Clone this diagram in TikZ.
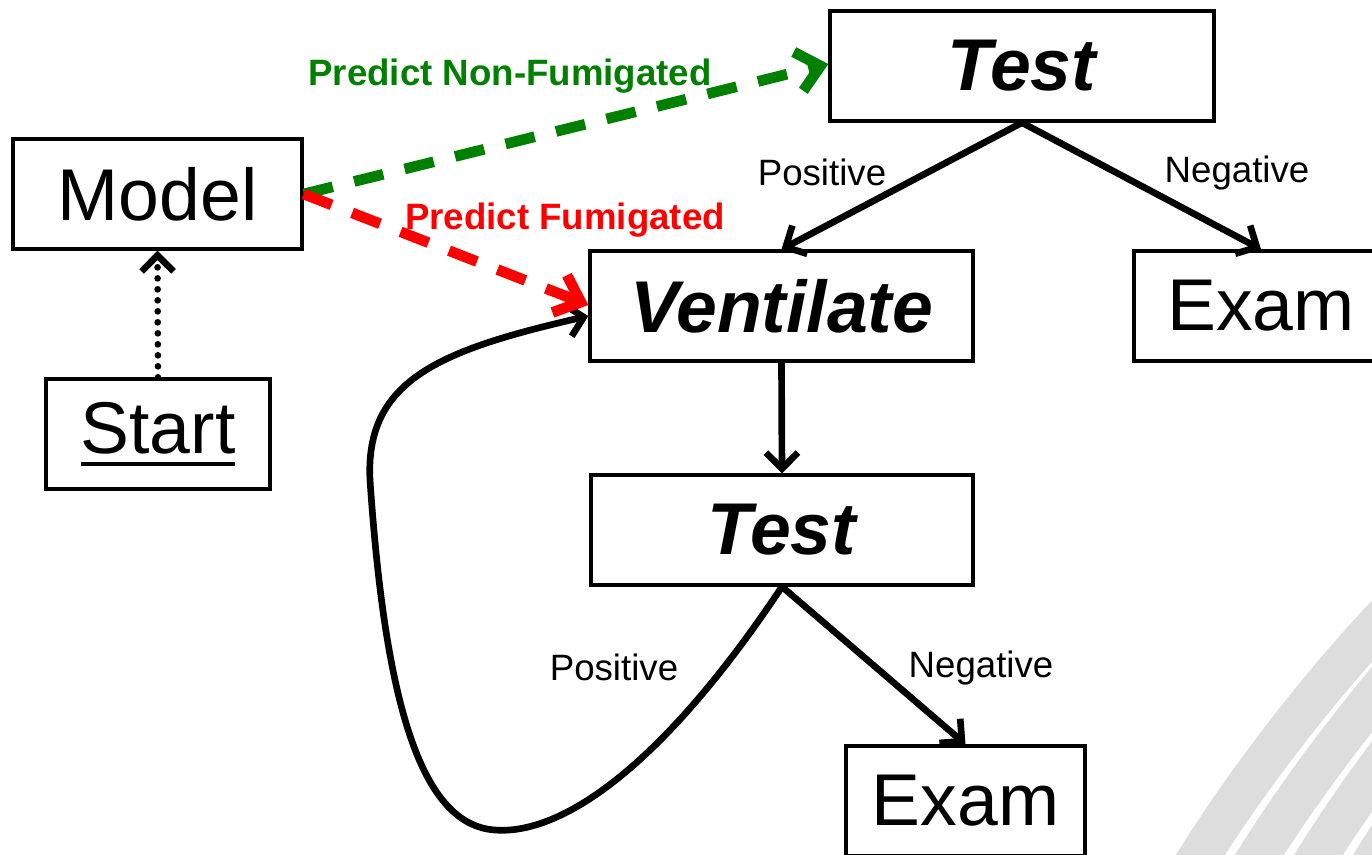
\documentclass[tikz,border=0pt]{standalone}
\usepackage{fontspec}
\setmainfont{Liberation Sans}
\usetikzlibrary{arrows.meta}
\definecolor{pgreen}{RGB}{0,128,0}
\definecolor{pred}{RGB}{255,0,0}
\definecolor{band}{RGB}{221,221,221}
\newcommand{\ulStart}[1]{{\setbox0\hbox{#1}\rlap{\rule[-9.5pt]{\wd0}{3pt}}\box0}}
\tikzset{
  box/.style={draw=black, line width=2.5pt, inner sep=0pt, minimum height=82.5pt, fill=white, font=\fontsize{55pt}{60pt}\selectfont},
  bigital/.style={font=\fontsize{55pt}{60pt}\selectfont\bfseries\itshape},
  lbl/.style={inner sep=0pt, font=\fontsize{27.5pt}{30pt}\selectfont},
  plbl/.style={inner sep=0pt, font=\fontsize{27.5pt}{30pt}\selectfont\bfseries},
  conn/.style={line width=5pt, -{Straight Barb[length=12pt,width=24pt,line width=5pt]}},
  pconn/.style={line width=8pt, dash pattern=on 22.5pt off 16.5pt, -{Straight Barb[length=17pt,width=30pt,line width=8pt]}},
  dotconn/.style={line width=5pt, line cap=round, dash pattern=on 0pt off 8.25pt, -{Straight Barb[length=12pt,width=24pt,line width=5pt]}},
  bandline/.style={draw=band, line width=31pt}
}
\begin{document}
\begin{tikzpicture}[x=0.75pt,y=-0.75pt]
\useasboundingbox (0,0) rectangle (1372,854);
\clip (0,0) rectangle (1372,854);
\fill[white] (0,0) rectangle (1372,854);
% background bands
\foreach \d in {0,59,118,177}{
  \draw[bandline] (1188+\d,875) .. controls (1236+\d,795) and (1321+\d,680) .. (1411+\d,590);
}
% nodes
\node[box, minimum width=216.75pt] (model) at (157.5,194) {Model};
\node[box, minimum width=168pt] (start) at (158,434) {\ulStart{Start}};
\node[box, minimum width=288pt, bigital] (ttop) at (1022,66) {Test};
\node[box, minimum width=287.25pt, bigital] (vent) at (781.5,306) {Ventilate};
\node[box, minimum width=190.5pt] (exr) at (1261,306) {Exam};
\node[box, minimum width=286.5pt, bigital] (tmid) at (782,530) {Test};
\node[box, minimum width=179.25pt] (exb) at (965.5,801) {Exam};
% labels
\node[lbl] (pos1) at (822,172) {Positive};
\node[lbl] (neg1) at (1237,173) {Negative};
\node[lbl] (pos2) at (614,667) {Positive};
\node[lbl] (neg2) at (981,668) {Negative};
\node[plbl, text=pgreen] (pnf) at (510,76) {Predict Non-Fumigated};
% connectors
\draw[conn] (ttop.south) -- (vent.north);
\draw[conn] (ttop.south) -- (exr.north);
\draw[conn] (vent.south) -- (tmid.north);
\draw[conn] (tmid.south) -- (exb.north);
\draw[conn] (tmid.south) .. controls (660,770) and (560,835) .. (495,830)
  .. controls (420,825) and (385,700) .. (370,480)
  .. controls (365,380) and (440,350) .. ([yshift=-7.5pt]vent.west);
\draw[dotconn] (start.north) -- (model.south);
\draw[pconn, draw=pgreen] (model.east) -- ([yshift=1.5pt]ttop.west);
\draw[pconn, draw=pred] (model.east) -- ([yshift=0.75pt]vent.west);
\node[plbl, text=pred] (pf) at (565,220) {Predict Fumigated};
\end{tikzpicture}
\end{document}
